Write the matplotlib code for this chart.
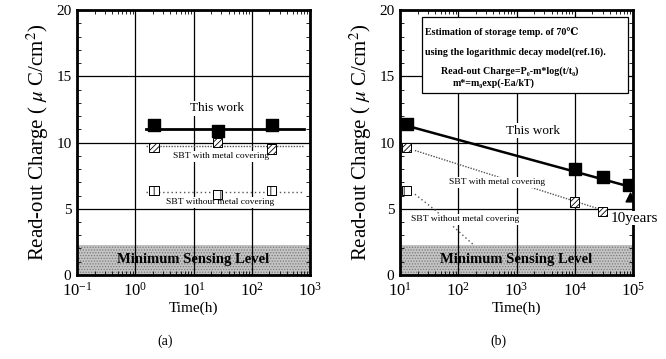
import matplotlib.pyplot as plt
import numpy as np
from matplotlib.patches import Rectangle
from matplotlib.ticker import FixedLocator, NullFormatter, LogLocator

plt.rcParams['font.family'] = ['Liberation Serif', 'DejaVu Serif']
plt.rcParams['mathtext.fontset'] = 'stix'
plt.rcParams['hatch.linewidth'] = 0.6

# panel (a): room temperature retention
a_time = [2.1, 26, 220]
a_work = [11.3, 10.9, 11.3]
a_work_fit = [11.0, 11.0]
a_metal = [9.6, 10.0, 9.5]
a_metal_fit = [9.7, 9.7]
a_nometal = [6.4, 6.1, 6.4]
a_nometal_fit = [6.3, 6.3]
a_fit_time = [1.5, 800]

# panel (b): 70C estimation
b_work_time = [13, 1e4, 3e4, 8.5e4]
b_work = [11.4, 8.0, 7.4, 6.8]
b_work_fit_time = [18, 1e5]
b_work_fit = [11.1, 6.6]
b_metal_time = [13, 1e4, 3e4]
b_metal = [9.6, 5.5, 4.8]
b_metal_fit_time = [18, 3e4]
b_metal_fit = [9.4, 4.9]
b_nometal_time = [13]
b_nometal = [6.4]
b_nometal_fit_time = [18, 40, 180]
b_nometal_fit = [6.1, 4.9, 2.3]

min_level = 2.3

fig = plt.figure(figsize=(6.66, 3.59), dpi=100)
ax1 = fig.add_axes([0.1156, 0.234, 0.35, 0.738])
ax2 = fig.add_axes([0.6006, 0.234, 0.35, 0.738])


def style(ax, xlo, xhi):
    ax.set_xscale('log')
    ax.set_xlim(xlo, xhi)
    ax.set_ylim(0, 20)
    ax.axhspan(0, min_level, facecolor='#c4c4c4', edgecolor='#7a7a7a',
               hatch='......', lw=0, zorder=1)
    ax.text(np.sqrt(xlo * xhi), min_level / 2, 'Minimum Sensing Level',
            ha='center', va='center', fontsize=10.5, fontweight='bold', zorder=5)
    ax.set_yticks([0, 5, 10, 15, 20])
    ax.yaxis.set_minor_locator(FixedLocator(np.arange(0, 21, 1)))
    ax.xaxis.set_major_locator(LogLocator(base=10, numticks=12))
    ax.xaxis.set_minor_locator(LogLocator(base=10, subs=np.arange(2, 10), numticks=12))
    ax.xaxis.set_minor_formatter(NullFormatter())
    ax.tick_params(which='both', direction='in', top=True, right=True,
                   labelsize=12)
    ax.tick_params(which='major', length=0, pad=5)
    ax.tick_params(which='minor', length=3, width=0.6)
    ax.tick_params(axis='y', labelsize=11, pad=4)
    ax.grid(True, which='major', color='black', lw=0.9, zorder=0)
    for s in ax.spines.values():
        s.set_linewidth(2)
        s.set_zorder(6)
    ax.set_xlabel('Time(h)', fontsize=11, labelpad=1)
    ax.set_ylabel('Read-out Charge ( $\\mu$ C/cm$^2$)', fontsize=15, labelpad=4)


style(ax1, 0.1, 1000)
style(ax2, 10, 1e5)

box = dict(facecolor='white', edgecolor='none', pad=1)
mk = dict(marker='s', s=70, zorder=4)

# (a)
ax1.plot(a_fit_time, a_work_fit, color='black', lw=2, zorder=3)
ax1.scatter(a_time, a_work, color='black', **mk)
ax1.plot(a_fit_time, a_metal_fit, color='#555555', lw=1, ls=(0, (1, 1)), zorder=3)
ax1.scatter(a_time, a_metal, facecolor='white', edgecolor='black', hatch='//////',
            lw=0.7, marker='s', s=45, zorder=4)
ax1.plot(a_fit_time, a_nometal_fit, color='#555555', lw=1, ls=(0, (1, 2)), zorder=3)
ax1.scatter(a_time, a_nometal, facecolor='white', edgecolor='black', hatch='||',
            lw=0.7, marker='s', s=45, zorder=4)
ax1.text(25, 12.6, 'This work', ha='center', va='center', fontsize=9.5, bbox=box)
ax1.text(30, 8.95, 'SBT with metal covering', ha='center', va='center',
         fontsize=6.8, bbox=box)
ax1.text(28, 5.5, 'SBT without metal covering', ha='center', va='center',
         fontsize=6.8, bbox=box)
fig.text(0.248, 0.05, '(a)', ha='center', va='center', fontsize=10)

# (b)
ax2.plot(b_work_fit_time, b_work_fit, color='black', lw=1.8, zorder=3)
ax2.scatter(b_work_time, b_work, color='black', **mk)
ax2.plot(b_metal_fit_time, b_metal_fit, color='#555555', lw=1, ls=(0, (1, 1)), zorder=3)
ax2.scatter(b_metal_time, b_metal, facecolor='white', edgecolor='black', hatch='//////',
            lw=0.7, marker='s', s=45, zorder=4)
ax2.plot(b_nometal_fit_time, b_nometal_fit, color='#555555', lw=1, ls=(0, (1, 2)), zorder=3)
ax2.scatter(b_nometal_time, b_nometal, facecolor='white', edgecolor='black', hatch='||',
            lw=0.7, marker='s', s=45, zorder=4)
ax2.scatter([9e4], [5.9], color='black', marker='^', s=40, zorder=4)
ax2.text(1900, 10.9, 'This work', ha='center', va='center', fontsize=9.5, bbox=box)
ax2.text(460, 7.0, 'SBT with metal covering', ha='center', va='center',
         fontsize=6.8, bbox=box)
ax2.text(130, 4.2, 'SBT without metal covering', ha='center', va='center',
         fontsize=6.8, bbox=box)
ax2.text(4.2e4, 4.3, '10years', ha='left', va='center', fontsize=11,
         clip_on=False, zorder=9, bbox=dict(facecolor='white', edgecolor='none', pad=0.5))

ax2.add_patch(Rectangle((0.094, 0.687), 0.886, 0.287, transform=ax2.transAxes,
                        facecolor='white', edgecolor='black', lw=0.9, zorder=7))
ax2.text(0.107, 0.915, 'Estimation of storage temp. of 70\u2103',
         transform=ax2.transAxes, ha='left', va='center', fontsize=7.2,
         fontweight='bold', zorder=8)
ax2.text(0.107, 0.840, 'using the logarithmic decay model(ref.16).',
         transform=ax2.transAxes, ha='left', va='center', fontsize=7.2,
         fontweight='bold', zorder=8)
ax2.text(0.47, 0.768, 'Read-out Charge=P\u2080-m*log(t/t\u2080)',
         transform=ax2.transAxes, ha='center', va='center', fontsize=7.2,
         fontweight='bold', zorder=8)
ax2.text(0.224, 0.725, 'm*=m\u2080exp(-Ea/kT)',
         transform=ax2.transAxes, ha='left', va='center', fontsize=7.2,
         fontweight='bold', zorder=8)
fig.text(0.748, 0.05, '(b)', ha='center', va='center', fontsize=10)

fig.savefig('out.png', dpi=100)
